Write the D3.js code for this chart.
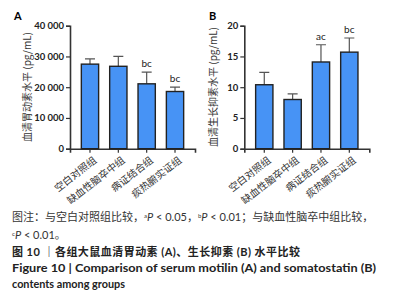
<!DOCTYPE html>
<html>
<head>
<meta charset="utf-8">
<script src="https://cdn.jsdelivr.net/npm/d3@7"></script>
<style>
  body { margin: 0; background: #fff; }
  svg text { font-family: "Lato", "Noto Sans CJK SC", sans-serif; }
  .cjk { font-family: "Noto Sans CJK SC", sans-serif; }
</style>
</head>
<body>
<div id="chart"></div>
<script>
var groups = ["空白对照组", "缺血性脑卒中组", "病证结合组", "痰热腑实证组"];
var motilin = [27500, 26800, 21100, 18600];
var motilinErr = [1700, 3200, 3800, 1400];
var motilinMarks = ["", "", "bc", "bc"];
var somato = [10.4, 8.0, 14.1, 15.7];
var somatoErr = [2.0, 0.9, 2.8, 2.3];
var somatoMarks = ["", "", "ac", "bc"];
var motilinTicks = [0, 10000, 20000, 30000, 40000];
var somatoTicks = [0, 5, 10, 15, 20];

var svg = d3.select("#chart").append("svg")
    .attr("width", 419)
    .attr("height", 302);

function panel(opt) {
  var g = svg.append("g");
  var x = d3.scaleBand().domain(groups).range([opt.left, opt.left + 125]).paddingInner(0.39).paddingOuter(0.4);
  var y = d3.scaleLinear().domain([0, opt.max]).range([148.7, 25.7]);

  g.append("text").attr("x", opt.labelX).attr("y", 20)
    .style("font-weight", "bold").style("font-size", "11px").text(opt.label);

  var yAxis = g.append("g")
      .attr("transform", "translate(" + opt.left + ",0)")
      .call(d3.axisLeft(y).tickValues(opt.ticks).tickSize(4).tickPadding(2).tickFormat(opt.fmt));
  var xAxis = g.append("g")
      .attr("transform", "translate(0,148.7)")
      .call(d3.axisBottom(x).tickSize(4).tickFormat(""));
  g.selectAll(".domain").attr("stroke", "#333").attr("stroke-width", 1.6);
  g.selectAll(".tick line").attr("stroke", "#333").attr("stroke-width", 1.2);
  yAxis.selectAll("text").style("font-size", "9.5px").style("font-weight", "bold").attr("fill", "#222");

  // x labels, rotated
  g.selectAll(".xl").data(groups).enter().append("text")
    .attr("class", "cjk")
    .attr("transform", function(d) { return "translate(" + (x(d) + x.bandwidth() / 2 + 3) + ",156) rotate(-38)"; })
    .attr("text-anchor", "end")
    .attr("dy", "0.7em")
    .style("font-size", "10px")
    .attr("fill", "#333")
    .text(function(d) { return d; });

  // y title
  g.append("text")
    .attr("class", "cjk")
    .attr("transform", "translate(" + opt.titleX + ",87) rotate(-90)")
    .attr("text-anchor", "middle")
    .style("font-size", "10px")
    .attr("fill", "#333")
    .text(opt.title);

  // error bars
  g.selectAll(".err").data(opt.vals).enter().append("path")
    .attr("d", function(d, i) {
      var cx = x(groups[i]) + x.bandwidth() / 2;
      var top = y(d + opt.err[i]);
      return "M" + cx + "," + y(d) + "V" + top + "M" + (cx - 5) + "," + top + "H" + (cx + 5);
    })
    .attr("stroke", "#555").attr("stroke-width", 1.2).attr("fill", "none");

  g.selectAll(".bar").data(opt.vals).enter().append("rect")
    .attr("x", function(d, i) { return x(groups[i]); })
    .attr("y", function(d) { return y(d); })
    .attr("width", x.bandwidth())
    .attr("height", function(d) { return y(0) - y(d); })
    .attr("fill", "#4793f5")
    .attr("stroke", "#222")
    .attr("stroke-width", 1.4);

  g.selectAll(".mk").data(opt.marks).enter().append("text")
    .attr("x", function(d, i) { return x(groups[i]) + x.bandwidth() / 2; })
    .attr("y", function(d, i) { return y(opt.vals[i] + opt.err[i]) - 5; })
    .attr("text-anchor", "middle")
    .style("font-size", "10px")
    .attr("fill", "#222")
    .text(function(d) { return d; });
}

panel({
  left: 70, max: 40000, ticks: motilinTicks,
  fmt: function(d) { return d3.format(",")(d).replace(",", " "); },
  vals: motilin, err: motilinErr, marks: motilinMarks,
  label: "A", labelX: 14, titleX: 31, title: "血清胃动素水平 (pg/mL)"
});
panel({
  left: 244.3, max: 20, ticks: somatoTicks,
  fmt: d3.format("d"),
  vals: somato, err: somatoErr, marks: somatoMarks,
  label: "B", labelX: 209, titleX: 217, title: "血清生长抑素水平 (pg/mL)"
});

// caption
var cap = svg.append("g").attr("fill", "#333");
var l1 = cap.append("text").attr("x", 12).attr("y", 221).style("font-size", "11px");
l1.append("tspan").attr("class", "cjk").text("图注：与空白对照组比较，");
l1.append("tspan").attr("baseline-shift", "super").style("font-size", "6px").text("a");
l1.append("tspan").style("font-style", "italic").text("P");
l1.append("tspan").text(" < 0.05，");
l1.append("tspan").attr("baseline-shift", "super").style("font-size", "6px").text("b");
l1.append("tspan").style("font-style", "italic").text("P");
l1.append("tspan").text(" < 0.01；");
l1.append("tspan").attr("class", "cjk").text("与缺血性脑卒中组比较，");

var l2 = cap.append("text").attr("x", 12).attr("y", 239).style("font-size", "11px");
l2.append("tspan").attr("baseline-shift", "super").style("font-size", "6px").text("c");
l2.append("tspan").style("font-style", "italic").text("P");
l2.append("tspan").text(" < 0.01。");

cap.append("text").attr("x", 12).attr("y", 256).style("font-size", "11px").style("font-weight", "bold")
  .attr("fill", "#222").attr("textLength", 288)
  .text("图 10 ｜各组大鼠血清胃动素 (A)、生长抑素 (B) 水平比较");
cap.append("text").attr("x", 12).attr("y", 272).style("font-size", "11px").style("font-weight", "bold")
  .attr("fill", "#222").attr("textLength", 364).attr("lengthAdjust", "spacingAndGlyphs")
  .text("Figure 10  |  Comparison of serum motilin (A) and somatostatin (B)");
cap.append("text").attr("x", 12).attr("y", 288).style("font-size", "11px").style("font-weight", "bold")
  .attr("fill", "#222").attr("textLength", 113).attr("lengthAdjust", "spacingAndGlyphs")
  .text("contents among groups");
</script>
</body>
</html>
